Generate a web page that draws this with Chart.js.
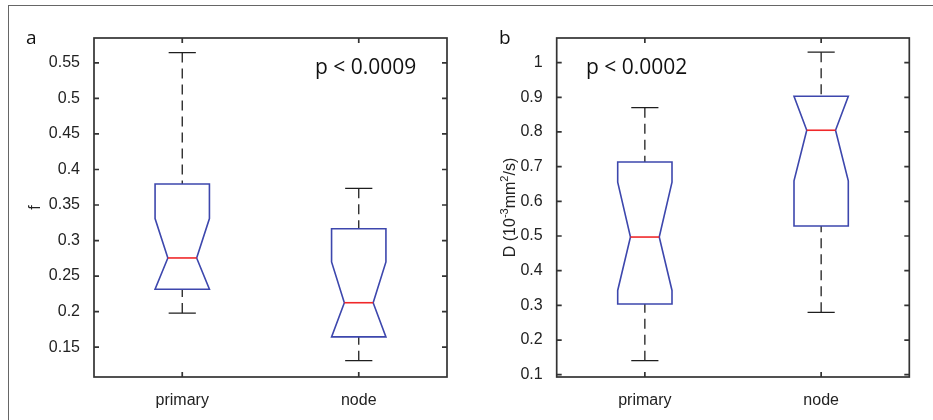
<!DOCTYPE html>
<html>
<head>
<meta charset="utf-8">
<script src="https://cdn.jsdelivr.net/npm/chart.js@4.4.1/dist/chart.umd.min.js"></script>
<style>
  html, body { margin: 0; padding: 0; background: #fff; }
  #page { position: relative; width: 933px; height: 420px; overflow: hidden; }
  #frame { position: absolute; left: 8px; top: 5px; right: -2px; bottom: -2px;
           border-top: 1.5px solid #666; border-left: 1.5px solid #666; }
  .panel { position: absolute; top: 0; height: 420px; }
  #panelA { left: 0; width: 466px; }
  #panelB { left: 466px; width: 467px; }
</style>
</head>
<body>
<div id="page">
  <div id="frame"></div>
  <div class="panel" id="panelA"><canvas id="chartA"></canvas></div>
  <div class="panel" id="panelB"><canvas id="chartB"></canvas></div>
</div>
<script>
const groups = ['primary', 'node'];

// panel a: f
const aWhiskerLow = [0.198, 0.131];
const aQ1 = [0.2315, 0.1645];
const aNotchLow = [0.2315, 0.1645];
const aMedian = [0.2755, 0.2125];
const aNotchHigh = [0.331, 0.270];
const aQ3 = [0.3795, 0.3165];
const aWhiskerHigh = [0.5645, 0.3735];
const aTicks = [0.15, 0.2, 0.25, 0.3, 0.35, 0.4, 0.45, 0.5, 0.55];

// panel b: D
const bWhiskerLow = [0.1405, 0.280];
const bQ1 = [0.304, 0.529];
const bNotchLow = [0.343, 0.659];
const bMedian = [0.497, 0.805];
const bNotchHigh = [0.655, 0.903];
const bQ3 = [0.7135, 0.903];
const bWhiskerHigh = [0.870, 1.030];
const bTicks = [0.1, 0.2, 0.3, 0.4, 0.5, 0.6, 0.7, 0.8, 0.9, 1];

// y title of panel b, pieces with superscript flag
const bTitleParts = [['D (10', false], ['-3', true], ['mm', false], ['2', true], ['/s)', false]];

Chart.defaults.font.family = '"Liberation Sans", Arial, sans-serif';
Chart.defaults.color = '#222';

const blue = '#3d47ad';
const red = '#f0282a';
const axisColor = '#333';

function boxPlugin(stats, panelLabel, pText, pX, richTitle) {
    return {
        id: 'notchBox',
        afterDatasetsDraw(chart) {
            const { ctx, scales: { x, y } } = chart;
            const step = x.getPixelForValue(1) - x.getPixelForValue(0);
            const half = step * 0.154;
            const notch = half * 0.53;
            const cap = half * 0.5;
            const py = v => y.getPixelForValue(v);

            stats.median.forEach((m, i) => {
                const cx = x.getPixelForValue(i);
                ctx.save();
                ctx.strokeStyle = '#1e1e1e';
                ctx.lineWidth = 1.3;
                // whiskers
                ctx.setLineDash([10, 6]);
                ctx.beginPath();
                ctx.moveTo(cx, py(stats.whiskerHigh[i]));
                ctx.lineTo(cx, py(stats.q3[i]));
                ctx.moveTo(cx, py(stats.whiskerLow[i]));
                ctx.lineTo(cx, py(stats.q1[i]));
                ctx.stroke();
                // caps
                ctx.setLineDash([]);
                ctx.beginPath();
                ctx.moveTo(cx - cap, py(stats.whiskerHigh[i]));
                ctx.lineTo(cx + cap, py(stats.whiskerHigh[i]));
                ctx.moveTo(cx - cap, py(stats.whiskerLow[i]));
                ctx.lineTo(cx + cap, py(stats.whiskerLow[i]));
                ctx.stroke();
                // notched box
                ctx.strokeStyle = blue;
                ctx.lineWidth = 1.6;
                ctx.beginPath();
                ctx.moveTo(cx - half, py(stats.q3[i]));
                ctx.lineTo(cx + half, py(stats.q3[i]));
                ctx.lineTo(cx + half, py(stats.notchHigh[i]));
                ctx.lineTo(cx + notch, py(m));
                ctx.lineTo(cx + half, py(stats.notchLow[i]));
                ctx.lineTo(cx + half, py(stats.q1[i]));
                ctx.lineTo(cx - half, py(stats.q1[i]));
                ctx.lineTo(cx - half, py(stats.notchLow[i]));
                ctx.lineTo(cx - notch, py(m));
                ctx.lineTo(cx - half, py(stats.notchHigh[i]));
                ctx.closePath();
                ctx.stroke();
                // median
                ctx.strokeStyle = red;
                ctx.beginPath();
                ctx.moveTo(cx - notch, py(m));
                ctx.lineTo(cx + notch, py(m));
                ctx.stroke();
                ctx.restore();
            });
        },
        afterDraw(chart) {
            const { ctx, chartArea: a, scales: { x, y } } = chart;
            ctx.save();
            ctx.strokeStyle = axisColor;
            ctx.lineWidth = 1.7;
            ctx.strokeRect(a.left, a.top, a.right - a.left, a.bottom - a.top);
            ctx.beginPath();
            y.ticks.forEach(t => {
                const yy = y.getPixelForValue(t.value);
                ctx.moveTo(a.left, yy); ctx.lineTo(a.left + 5, yy);
                ctx.moveTo(a.right, yy); ctx.lineTo(a.right - 5, yy);
            });
            groups.forEach((g, i) => {
                const xx = x.getPixelForValue(i);
                ctx.moveTo(xx, a.bottom); ctx.lineTo(xx, a.bottom - 5);
                ctx.moveTo(xx, a.top); ctx.lineTo(xx, a.top + 5);
            });
            ctx.stroke();
            // panel letter and p value
            ctx.fillStyle = '#111';
            ctx.textBaseline = 'alphabetic';
            ctx.font = '19px "Open Sans", sans-serif';
            ctx.fillText(panelLabel.text, panelLabel.x, 44);
            ctx.font = '21px "Open Sans", sans-serif';
            ctx.fillText(pText, pX, 74);

            // y title with real superscripts
            if (richTitle) {
                const big = '16px "Liberation Sans", Arial, sans-serif';
                const small = '11px "Liberation Sans", Arial, sans-serif';
                let total = 0;
                richTitle.parts.forEach(([s, sup]) => { ctx.font = sup ? small : big; total += ctx.measureText(s).width; });
                ctx.translate(richTitle.x, (a.top + a.bottom) / 2);
                ctx.rotate(-Math.PI / 2);
                ctx.fillStyle = '#222';
                let pos = -total / 2;
                richTitle.parts.forEach(([s, sup]) => {
                    ctx.font = sup ? small : big;
                    ctx.fillText(s, pos, sup ? -1 : 6);
                    pos += ctx.measureText(s).width;
                });
            }
            ctx.restore();
        }
    };
}

function makeChart(id, stats, ticks, yMin, yMax, title, titlePad, yWidth, rightPad, panelLabel, pText, pX, richTitle) {
    const ctx = document.getElementById(id).getContext('2d');
    new Chart(ctx, {
        type: 'bar',
        data: { labels: groups, datasets: [] },
        options: {
            responsive: true,
            maintainAspectRatio: false,
            animation: false,
            layout: { padding: { top: 38, right: rightPad, left: 0, bottom: 0 } },
            plugins: { legend: { display: false }, tooltip: { enabled: false } },
            scales: {
                x: {
                    type: 'category',
                    offset: true,
                    grid: { display: false },
                    border: { display: false },
                    ticks: { font: { size: 16 }, padding: 6, maxRotation: 0, color: '#222' },
                    afterFit: s => { s.height = 43; }
                },
                y: {
                    min: yMin,
                    max: yMax,
                    grid: { display: false },
                    border: { display: false },
                    ticks: { font: { size: 16 }, padding: 6, color: '#222', callback: v => String(v) },
                    afterBuildTicks: s => { s.ticks = ticks.map(v => ({ value: v })); },
                    afterFit: s => { s.width = yWidth; },
                    title: { display: !!title, text: title, font: { size: 16 }, color: '#222',
                             padding: { top: titlePad, bottom: 0 } }
                }
            }
        },
        plugins: [boxPlugin(stats, panelLabel, pText, pX, richTitle)]
    });
}

makeChart('chartA', {
    whiskerLow: aWhiskerLow, q1: aQ1, notchLow: aNotchLow, median: aMedian,
    notchHigh: aNotchHigh, q3: aQ3, whiskerHigh: aWhiskerHigh
}, aTicks, 0.108, 0.585, 'f', 26, 94, 19, { text: 'a', x: 26 }, 'p < 0.0009', 315, null);

makeChart('chartB', {
    whiskerLow: bWhiskerLow, q1: bQ1, notchLow: bNotchLow, median: bMedian,
    notchHigh: bNotchHigh, q3: bQ3, whiskerHigh: bWhiskerHigh
}, bTicks, 0.0934, 1.071, '', 0, 90.7, 23.7, { text: 'b', x: 33 }, 'p < 0.0002', 120,
   { parts: bTitleParts, x: 43 });
</script>
</body>
</html>
